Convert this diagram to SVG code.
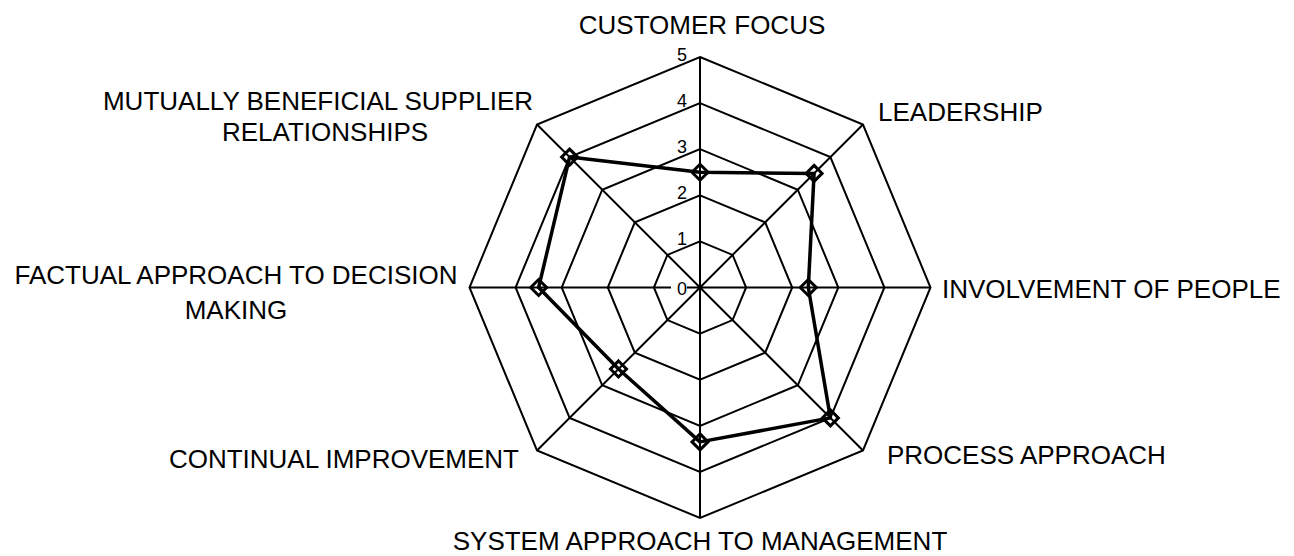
<svg xmlns="http://www.w3.org/2000/svg" width="1294" height="556" viewBox="0 0 1294 556">
<style>
.grid{fill:none;stroke:#000;stroke-width:2;stroke-linejoin:miter}
.series{fill:none;stroke:#000;stroke-width:3.5;stroke-linejoin:round}
.mk{fill:none;stroke:#000;stroke-width:3}
.lbl{font-family:"Liberation Sans",Arial,sans-serif;font-size:26px;fill:#000}
.tick{font-family:"Liberation Sans",Arial,sans-serif;font-size:18px;fill:#000;text-anchor:end}
</style>
<defs>
<path id="dia" class="mk" d="M0,-8 L8,0 L0,8 L-8,0 Z"/>
</defs>
<rect width="1294" height="556" fill="#fff"/>
<g id="grid">
<polygon class="grid" points="700,241.4 732.6,254.9 746.1,287.5 732.6,320.1 700,333.6 667.4,320.1 653.9,287.5 667.4,254.9"/>
<polygon class="grid" points="700,195.3 765.19,222.31 792.2,287.5 765.19,352.69 700,379.7 634.81,352.69 607.8,287.5 634.81,222.31"/>
<polygon class="grid" points="700,149.2 797.79,189.71 838.3,287.5 797.79,385.29 700,425.8 602.21,385.29 561.7,287.5 602.21,189.71"/>
<polygon class="grid" points="700,103.1 830.39,157.11 884.4,287.5 830.39,417.89 700,471.9 569.61,417.89 515.6,287.5 569.61,157.11"/>
<polygon class="grid" points="700,57 862.99,124.51 930.5,287.5 862.99,450.49 700,518 537.01,450.49 469.5,287.5 537.01,124.51"/>
<path class="grid" d="M700,287.5 L700,57 M700,287.5 L862.99,124.51 M700,287.5 L930.5,287.5 M700,287.5 L862.99,450.49 M700,287.5 L700,518 M700,287.5 L537.01,450.49 M700,287.5 L469.5,287.5 M700,287.5 L537.01,124.51"/>
</g>
<g id="ticks">
<rect x="671" y="278" width="16" height="19" fill="#fff"/>
<text class="tick" x="687" y="295">0</text>
<text class="tick" x="687" y="245">1</text>
<text class="tick" x="687" y="199">2</text>
<text class="tick" x="687" y="153">3</text>
<text class="tick" x="687" y="107">4</text>
<text class="tick" x="687" y="61">5</text>
</g>
<g id="connectors">
<polygon class="series" points="700,172.25 814.09,173.41 808.3,287.5 830.39,417.89 700,441.9 618.51,368.99 538.65,287.5 569.61,157.11"/>
</g>
<g id="markers">
<use href="#dia" x="700" y="172.25"/>
<use href="#dia" x="814.09" y="173.41"/>
<use href="#dia" x="808.3" y="287.5"/>
<use href="#dia" x="830.39" y="417.89"/>
<use href="#dia" x="700" y="441.9"/>
<use href="#dia" x="618.51" y="368.99"/>
<use href="#dia" x="538.65" y="287.5"/>
<use href="#dia" x="569.61" y="157.11"/>
</g>
<g id="customer-focus"><text class="lbl" x="702" y="34" text-anchor="middle">CUSTOMER FOCUS</text></g>
<g id="leadership"><text class="lbl" x="878" y="121">LEADERSHIP</text></g>
<g id="involvement-of-people"><text class="lbl" x="942" y="298">INVOLVEMENT OF PEOPLE</text></g>
<g id="process-approach"><text class="lbl" x="887" y="464">PROCESS APPROACH</text></g>
<g id="system-approach"><text class="lbl" x="700" y="550" text-anchor="middle">SYSTEM APPROACH TO MANAGEMENT</text></g>
<g id="continual-improvement"><text class="lbl" x="519" y="468" text-anchor="end">CONTINUAL IMPROVEMENT</text></g>
<g id="factual-approach"><text class="lbl" text-anchor="middle"><tspan x="236" y="284">FACTUAL APPROACH TO DECISION</tspan><tspan x="236" y="319">MAKING</tspan></text></g>
<g id="mutually-beneficial"><text class="lbl" text-anchor="middle"><tspan x="318" y="110">MUTUALLY BENEFICIAL SUPPLIER</tspan><tspan x="325" y="141">RELATIONSHIPS</tspan></text></g>
</svg>
